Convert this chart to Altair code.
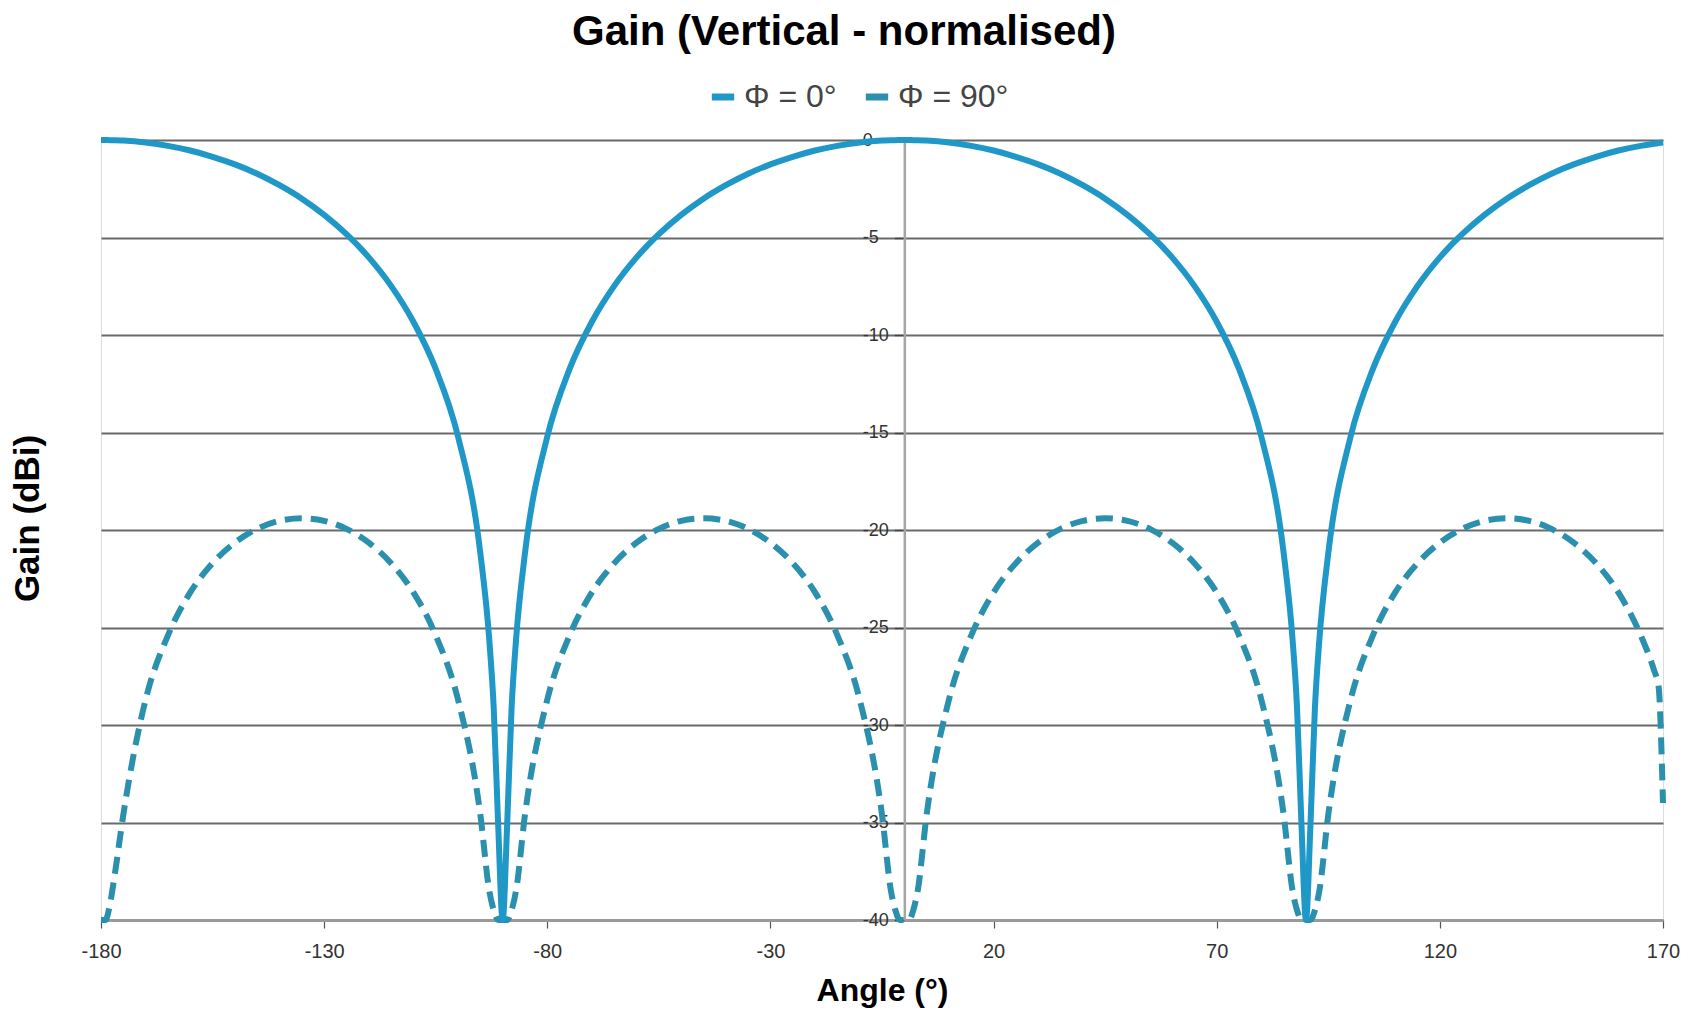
import altair as alt
import pandas as pd

# ---- data ----
series_names = ["Φ = 0°", "Φ = 90°"]
series_colors = ["#1f98c8", "#2a90ad"]

angles = [-180, -179, -178, -177, -175, -170, -165, -160, -155, -150,
          -145, -140, -135, -130, -125, -120, -115, -110, -105, -100,
          -95, -93, -92, -91, -90, -89, -88, -87, -85, -80,
          -75, -70, -65, -60, -55, -50, -45, -40, -35, -30,
          -25, -20, -15, -10, -5, -3, -2, -1, 0, 1,
          2, 3, 5, 10, 15, 20, 25, 30, 35, 40,
          45, 50, 55, 60, 65, 70, 75, 80, 85, 87,
          88, 89, 90, 91, 92, 93, 95, 100, 105, 110,
          115, 120, 125, 130, 135, 140, 145, 150, 155, 160,
          165, 168, 169, 170]

gain_phi0 = [0.0, 0.0, -0.01, -0.01, -0.03, -0.13, -0.30, -0.54, -0.86, -1.25,
             -1.73, -2.32, -3.01, -3.84, -4.83, -6.02, -7.48, -9.32, -11.74, -15.21,
             -21.19, -25.63, -29.14, -35.16, -40.0, -35.16, -29.14, -25.63, -21.19, -15.21,
             -11.74, -9.32, -7.48, -6.02, -4.83, -3.84, -3.01, -2.32, -1.73, -1.25,
             -0.86, -0.54, -0.30, -0.13, -0.03, -0.01, -0.01, 0.0, 0.0, 0.0,
             -0.01, -0.01, -0.03, -0.13, -0.30, -0.54, -0.86, -1.25, -1.73, -2.32,
             -3.01, -3.84, -4.83, -6.02, -7.48, -9.32, -11.74, -15.21, -21.19, -25.63,
             -29.14, -35.16, -40.0, -35.16, -29.14, -25.63, -21.19, -15.21, -11.74, -9.32,
             -7.48, -6.02, -4.83, -3.84, -3.01, -2.32, -1.73, -1.25, -0.86, -0.54,
             -0.30, -0.19, -0.16, -0.13]

gain_phi90 = [-40.0, -40.0, -39.2, -37.8, -34.6, -28.7, -25.4, -23.2, -21.7, -20.65,
              -19.94, -19.53, -19.4, -19.53, -19.94, -20.65, -21.7, -23.2, -25.4, -28.7,
              -34.6, -38.5, -39.5, -40.0, -40.0, -40.0, -39.5, -38.5, -34.6, -28.7,
              -25.4, -23.2, -21.7, -20.65, -19.94, -19.53, -19.4, -19.53, -19.94, -20.65,
              -21.7, -23.2, -25.4, -28.7, -34.6, -38.5, -39.5, -40.0, -40.0, -40.0,
              -39.5, -38.5, -34.6, -28.7, -25.4, -23.2, -21.7, -20.65, -19.94, -19.53,
              -19.4, -19.53, -19.94, -20.65, -21.7, -23.2, -25.4, -28.7, -34.6, -38.5,
              -39.5, -40.0, -40.0, -40.0, -39.5, -38.5, -34.6, -28.7, -25.4, -23.2,
              -21.7, -20.65, -19.94, -19.53, -19.4, -19.53, -19.94, -20.65, -21.7, -23.2,
              -25.4, -27.2, -28.0, -34.0]

x_ticks = [-180, -130, -80, -30, 20, 70, 120, 170]
y_ticks = [0, -5, -10, -15, -20, -25, -30, -35, -40]

# ---- layout ----
W, H = 1562, 780
X_MIN, X_MAX = -180, 170
y_axis_shift = (0 - X_MIN) / (X_MAX - X_MIN) * W   # y axis crosses at angle 0
LEGEND_Y = -59

df = pd.DataFrame({
    "angle": angles + angles,
    "gain": gain_phi0 + gain_phi90,
    "series": [series_names[0]] * len(angles) + [series_names[1]] * len(angles),
})

FONT = "Liberation Sans"

x_enc = alt.X(
    "angle:Q",
    scale=alt.Scale(domain=[X_MIN, X_MAX], nice=False, zero=False),
    axis=alt.Axis(
        values=x_ticks, title="Angle (°)", grid=False,
        labelExpr="'' + datum.value",
        domainColor="#9a9a9a", domainWidth=3,
        tickColor="#555555", tickSize=8, tickWidth=1.2,
        labelFont=FONT, labelFontSize=20, labelColor="#333333",
        labelPadding=13, labelFlush=False, labelOverlap=False,
        titleFont=FONT, titleFontSize=32, titleFontWeight="bold", titleColor="#000000",
        titleX=W / 2, titleY=70, titleBaseline="middle", titleAlign="center",
    ),
)

y_enc = alt.Y(
    "gain:Q",
    scale=alt.Scale(domain=[-40, 0], nice=False, zero=False),
    axis=alt.Axis(
        values=y_ticks, title="Gain (dBi)", orient="left", offset=-y_axis_shift,
        labelExpr="'' + datum.value",
        grid=True, gridColor="#6a6a6a", gridWidth=2,
        domainColor="#a5a5a5", domainWidth=2.5,
        tickColor="#444444", tickSize=10, tickWidth=1.5,
        labelFont=FONT, labelFontSize=18, labelColor="#333333",
        labelAlign="left", labelBaseline="middle", labelPadding=32,
        labelFlush=False, labelOverlap=False,
        titleFont=FONT, titleFontSize=35, titleFontWeight="bold", titleColor="#000000",
        titleAngle=270, titleX=-y_axis_shift - 74, titleY=H / 2 - 12,
        titleAlign="center", titleBaseline="middle",
    ),
)

color_enc = alt.Color(
    "series:N",
    scale=alt.Scale(domain=series_names, range=series_colors),
    legend=alt.Legend(
        title=None, orient="none", direction="horizontal",
        legendX=606, legendY=LEGEND_Y,
        symbolType="stroke", symbolSize=500, symbolStrokeWidth=7,
        symbolDash=[40, 0], symbolOpacity=1,
        labelFont=FONT, labelFontSize=32, labelColor="#444444",
        labelOffset=5, columnPadding=14, padding=0,
    ),
)

base = alt.Chart(df).encode(x=x_enc, y=y_enc, color=color_enc)

dashed = base.transform_filter(alt.datum.series == series_names[1]).mark_line(
    strokeWidth=6, strokeDash=[17, 9], interpolate="monotone", strokeCap="butt"
)
solid = base.transform_filter(alt.datum.series == series_names[0]).mark_line(
    strokeWidth=6, interpolate="monotone"
)

chart = alt.layer(dashed, solid).properties(
    width=W, height=H,
    title=alt.TitleParams(
        "Gain (Vertical - normalised)", font=FONT, fontSize=42, fontWeight="bold",
        color="#000000", anchor="middle", frame="group", offset=97 + LEGEND_Y,
        baseline="alphabetic", dx=-38, dy=44,
    ),
    autosize=alt.AutoSizeParams(type="none"),
    padding={"left": 93, "top": 132, "right": 20, "bottom": 88},
).configure_view(stroke=None).configure(background="white")

chart.save("out.html", embed_options={"renderer": "svg", "actions": False})
